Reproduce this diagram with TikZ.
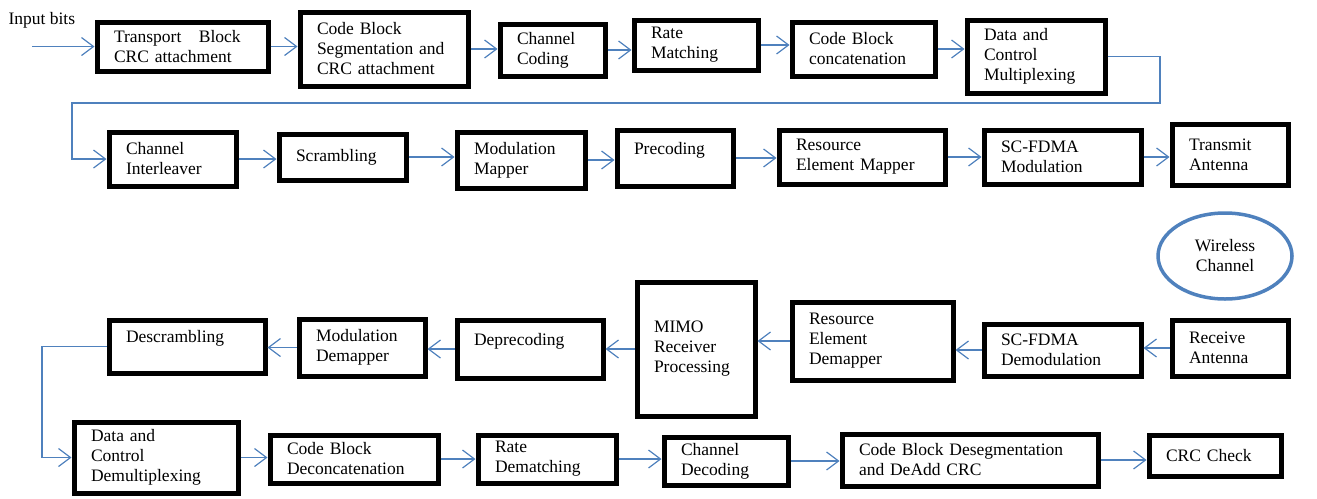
\documentclass[tikz,border=0pt]{standalone}
\usepackage{fontspec}
\setmainfont{Liberation Serif}
\usetikzlibrary{arrows.meta,shapes.geometric}

\definecolor{wordblue}{RGB}{79,129,189}

\begin{document}
\begin{tikzpicture}[x=1pt,y=-1pt,font=\fontsize{17.5}{20}\selectfont]
\tikzstyle{block}=[draw,line width=5pt,align=left,inner xsep=17pt,inner ysep=2pt]
\tikzstyle{link}=[draw,wordblue,line width=1.2pt,-{Straight Barb[length=12pt,width=18pt]}]
\tikzstyle{cloud}=[draw=wordblue,line width=3.5pt,ellipse,align=center,inner sep=0pt]

\useasboundingbox (0,0) rectangle (1317,498);

% transmitter chain
\node[anchor=west] (inp) at (5,20) {Input bits};
\coordinate (src) at (32,46.5);
\node[block,text width=137pt,minimum height=49pt] (b1) at (182.5,46.5) {Transport\ \ \ Block\\CRC attachment};
\node[block,text width=134pt,minimum height=74pt] (b2) at (384,49) {Code Block\\Segmentation and\\CRC attachment};
\node[block,text width=71pt,minimum height=52pt] (b3) at (552.5,50) {Channel\\Coding};
\node[block,text width=90pt,minimum height=50pt] (b4) at (696,45) {Rate\\Matching};
\node[block,text width=109pt,minimum height=54pt] (b5) at (863.5,49) {Code Block\\concatenation};
\node[block,text width=104pt,minimum height=73pt] (b6) at (1036,56.5) {Data and\\Control\\Multiplexing};

\node[block,text width=93pt,minimum height=54pt] (b7) at (172.5,159) {Channel\\Interleaver};
\node[block,text width=93pt,minimum height=46pt] (b8) at (342.5,157) {Scrambling};
\node[block,text width=94pt,minimum height=56pt] (b9) at (521,160) {Modulation\\Mapper};
\node[block,text width=82pt,minimum height=56pt] (b10) at (675,158) {Precoding\\\mbox{}};
\node[block,text width=132pt,minimum height=54pt] (b11) at (862,157) {Resource\\Element Mapper};
\node[block,text width=123pt,minimum height=54pt] (b12) at (1062.5,157) {SC-FDMA\\Modulation};
\node[block,text width=82pt,minimum height=61pt] (b13) at (1230,154.5) {Transmit\\Antenna};

\node[cloud,minimum width=134pt,minimum height=86pt] (air) at (1225,256) {Wireless\\Channel};

% receiver chain
\node[block,text width=82pt,minimum height=56pt] (b14) at (1230,348) {Receive\\Antenna};
\node[block,text width=123pt,minimum height=52pt] (b15) at (1062.5,350) {SC-FDMA\\Demodulation};
\node[block,text width=127pt,minimum height=78pt] (b16) at (872.5,341) {Resource\\Element\\Demapper};
\node[block,text width=84pt,minimum height=134pt] (b17) at (696,349) {MIMO\\Receiver\\Processing};
\node[block,text width=112pt,minimum height=58pt] (b18) at (530,349) {Deprecoding\\\mbox{}};
\node[block,text width=92pt,minimum height=57pt] (b19) at (362,347.5) {Modulation\\Demapper};
\node[block,text width=122pt,minimum height=53pt] (b20) at (187,346.5) {Descrambling\\\mbox{}};

\node[block,text width=130pt,minimum height=71pt] (b21) at (156,457.5) {Data and\\Control\\Demultiplexing};
\node[block,text width=134pt,minimum height=48pt] (b22) at (354,459) {Code Block\\Deconcatenation};
\node[block,text width=104pt,minimum height=48pt] (b23) at (547,459) {Rate\\Dematching};
\node[block,text width=90pt,minimum height=48pt] (b24) at (726,461) {Channel\\Decoding};
\node[block,text width=222pt,minimum height=52pt] (b25) at (970,460) {Code Block Desegmentation\\and DeAdd CRC};
\node[block,text width=98pt,minimum height=41pt] (b26) at (1215,455.5) {CRC Check};

\coordinate (bend1) at (1160,103);
\coordinate (bend2) at (72,103);
\coordinate (bend3) at (42,0);

\path (src) edge[link] (src -| b1.west);
\path (b1) edge[link] (b1 -| b2.west);
\path (b2) edge[link] (b2 -| b3.west);
\path (b3) edge[link] (b3 -| b4.west);
\path (b4) edge[link] (b4 -| b5.west);
\path (b5) edge[link] (b5 -| b6.west);
\draw[link] (b6.east) -| (bend1) -- (bend2) |- (b7.west);
\path (b7) edge[link] (b7 -| b8.west);
\path (b8) edge[link] (b8 -| b9.west);
\path (b9) edge[link] (b9 -| b10.west);
\path (b10) edge[link] (b10 -| b11.west);
\path (b11) edge[link] (b11 -| b12.west);
\path (b12) edge[link] (b12 -| b13.west);

\path (b14) edge[link] (b14 -| b15.east);
\path (b15) edge[link] (b15 -| b16.east);
\path (b16) edge[link] (b16 -| b17.east);
\path (b17) edge[link] (b17 -| b18.east);
\path (b18) edge[link] (b18 -| b19.east);
\path (b19) edge[link] (b19 -| b20.east);
\draw[link] (b20.west) -- (b20.west -| bend3) |- (b21.west);
\path (b21) edge[link] (b21 -| b22.west);
\path (b22) edge[link] (b22 -| b23.west);
\path (b23) edge[link] (b23 -| b24.west);
\path (b24) edge[link] (b24 -| b25.west);
\path (b25) edge[link] (b25 -| b26.west);

\end{tikzpicture}
\end{document}
